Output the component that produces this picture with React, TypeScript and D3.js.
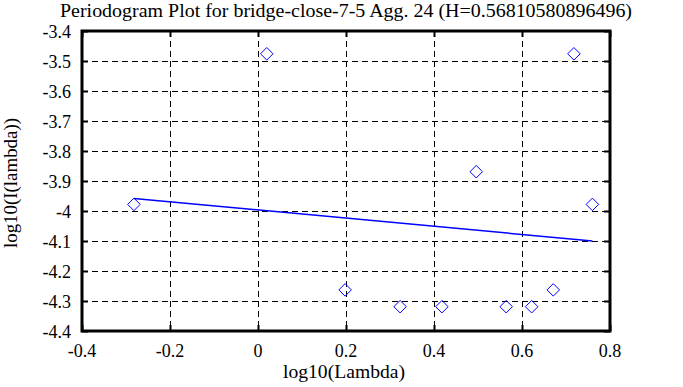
import * as d3 from 'd3'
import { useEffect, useRef } from 'react'

const WIDTH = 683
const HEIGHT = 387
const LEFT = 82
const RIGHT = 610
const TOP = 31
const BOTTOM = 331
const FONT = '"Liberation Serif", "Times New Roman", serif'

const TITLE = 'Periodogram Plot for bridge-close-7-5 Agg. 24 (H=0.56810580896496)'
const X_LABEL = 'log10(Lambda)'
const Y_LABEL = 'log10(I(lambda))'

const xTicks = [-0.4, -0.2, 0, 0.2, 0.4, 0.6, 0.8]
const yTicks = [-3.4, -3.5, -3.6, -3.7, -3.8, -3.9, -4, -4.1, -4.2, -4.3, -4.4]

// periodogram points (log10 lambda, log10 I)
const logLambda = [-0.282, 0.02, 0.198, 0.323, 0.418, 0.496, 0.564, 0.622, 0.671, 0.718, 0.76]
const logI = [-3.978, -3.476, -4.263, -4.319, -4.319, -3.869, -4.319, -4.319, -4.263, -3.476, -3.978]

// least squares fit, slope = 1 - 2H
const fitSlope = -0.13621
const fitIntercept = -3.9965

function drawChart(node: SVGSVGElement) {
  const svg = d3.select(node)
  svg.selectAll('*').remove()

  const x = d3.scaleLinear([-0.4, 0.8], [LEFT, RIGHT])
  const y = d3.scaleLinear([-4.4, -3.4], [BOTTOM, TOP])

  svg.append('rect').attr('width', WIDTH).attr('height', HEIGHT).attr('fill', 'white')

  // grid
  const grid = svg.append('g').attr('stroke', 'black').attr('stroke-width', 1).attr('stroke-dasharray', '6,4')
  grid
    .selectAll('line.v')
    .data(xTicks.slice(1, -1))
    .join('line')
    .attr('x1', (d) => Math.round(x(d)) + 0.5)
    .attr('x2', (d) => Math.round(x(d)) + 0.5)
    .attr('y1', TOP)
    .attr('y2', BOTTOM)
  grid
    .selectAll('line.h')
    .data(yTicks.slice(1, -1))
    .join('line')
    .attr('x1', LEFT)
    .attr('x2', RIGHT)
    .attr('y1', (d) => Math.round(y(d)) + 0.5)
    .attr('y2', (d) => Math.round(y(d)) + 0.5)

  // tick marks on the frame
  const ticks = svg.append('g').attr('stroke', 'black').attr('stroke-width', 2)
  xTicks.forEach((t) => {
    const px = Math.round(x(t)) + 0.5
    ticks.append('line').attr('x1', px).attr('x2', px).attr('y1', TOP).attr('y2', TOP + 6)
    ticks.append('line').attr('x1', px).attr('x2', px).attr('y1', BOTTOM).attr('y2', BOTTOM - 6)
  })
  yTicks.forEach((t) => {
    const py = Math.round(y(t)) + 0.5
    ticks.append('line').attr('x1', LEFT).attr('x2', LEFT + 6).attr('y1', py).attr('y2', py)
    ticks.append('line').attr('x1', RIGHT).attr('x2', RIGHT - 6).attr('y1', py).attr('y2', py)
  })

  // frame
  svg
    .append('rect')
    .attr('x', LEFT)
    .attr('y', TOP)
    .attr('width', RIGHT - LEFT)
    .attr('height', BOTTOM - TOP)
    .attr('fill', 'none')
    .attr('stroke', 'black')
    .attr('stroke-width', 3)

  // tick labels
  svg
    .append('g')
    .attr('font-family', FONT)
    .attr('font-size', 18)
    .attr('text-anchor', 'middle')
    .selectAll('text')
    .data(xTicks)
    .join('text')
    .attr('x', (d) => x(d))
    .attr('y', BOTTOM + 26)
    .text((d) => String(d))
  svg
    .append('g')
    .attr('font-family', FONT)
    .attr('font-size', 18)
    .attr('text-anchor', 'end')
    .selectAll('text')
    .data(yTicks)
    .join('text')
    .attr('x', LEFT - 11)
    .attr('y', (d) => y(d) + 7)
    .text((d) => String(d))

  // titles
  svg
    .append('text')
    .attr('x', 60)
    .attr('y', 17)
    .attr('font-family', FONT)
    .attr('font-size', 18)
    .attr('textLength', 572)
    .attr('lengthAdjust', 'spacingAndGlyphs')
    .text(TITLE)
  svg
    .append('text')
    .attr('x', 283)
    .attr('y', 378)
    .attr('font-family', FONT)
    .attr('font-size', 19)
    .attr('textLength', 122)
    .attr('lengthAdjust', 'spacingAndGlyphs')
    .text(X_LABEL)
  svg
    .append('text')
    .attr('transform', `translate(17,248) rotate(-90)`)
    .attr('font-family', FONT)
    .attr('font-size', 19)
    .attr('textLength', 130)
    .attr('lengthAdjust', 'spacingAndGlyphs')
    .text(Y_LABEL)

  // fitted line
  const xs = d3.extent(logLambda) as [number, number]
  const line = d3.line<number>(
    (d) => x(d),
    (d) => y(fitIntercept + fitSlope * d),
  )
  svg
    .append('path')
    .attr('d', line(xs))
    .attr('fill', 'none')
    .attr('stroke', '#0000ff')
    .attr('stroke-width', 1.5)

  // diamonds
  const diamond = d3.symbol(d3.symbolDiamond2, 100)
  svg
    .append('g')
    .selectAll('path')
    .data(logLambda)
    .join('path')
    .attr('transform', (d, i) => `translate(${x(d)},${y(logI[i])})`)
    .attr('d', diamond())
    .attr('fill', 'none')
    .attr('stroke', '#0000ff')
    .attr('stroke-width', 1)
}

export default function App() {
  const ref = useRef<SVGSVGElement>(null)
  useEffect(() => {
    if (ref.current) drawChart(ref.current)
  }, [])
  return (
    <svg
      ref={ref}
      width={WIDTH}
      height={HEIGHT}
      style={{ position: 'absolute', left: 0, top: 0, display: 'block' }}
    />
  )
}
